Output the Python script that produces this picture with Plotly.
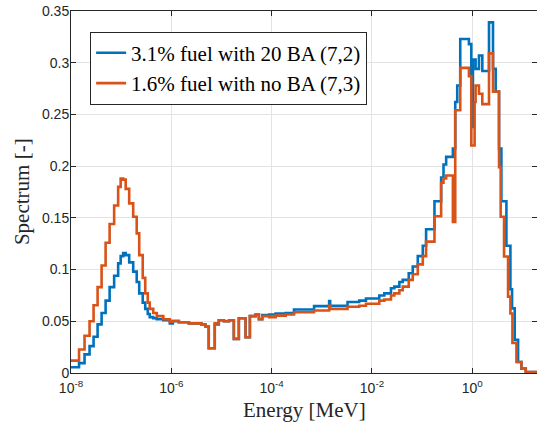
import plotly.graph_objects as go

# Lower bin edges, log10(Energy / MeV); last entry is the upper edge of the final bin
log_edges = [
    -8.05, -7.84, -7.73, -7.63, -7.55, -7.47, -7.39, -7.31, -7.23, -7.14,
    -7.06, -7.01, -6.96, -6.91, -6.84, -6.76, -6.69, -6.64, -6.57, -6.52,
    -6.47, -6.43, -6.36, -6.29, -6.16, -6.03, -5.97, -5.85, -5.65, -5.40,
    -5.32, -5.254, -5.134, -5.054, -4.95, -4.85, -4.754, -4.654, -4.52, -4.434,
    -4.32, -4.254, -4.187, -4.05, -3.92, -3.72, -3.554, -3.154, -2.854, -2.834,
    -2.487, -2.254, -2.12, -1.854, -1.754, -1.621, -1.554, -1.454, -1.387, -1.267,
    -1.187, -1.087, -0.987, -0.921, -0.754, -0.621, -0.574, -0.521, -0.387, -0.34,
    -0.30, -0.24, -0.067, -0.02, 0.013, 0.046, 0.066, 0.133, 0.20, 0.333,
    0.413, 0.466, 0.533, 0.566, 0.58, 0.633, 0.68, 0.713, 0.76, 0.793,
    0.80, 0.846, 0.88, 0.913, 0.98, 1.066, 1.30,
]

spectrum_ba = [
    0.0056, 0.0095, 0.018, 0.026, 0.035, 0.047, 0.058, 0.070, 0.083, 0.094,
    0.106, 0.113, 0.116, 0.114, 0.107, 0.098, 0.088, 0.077, 0.068, 0.062,
    0.057, 0.054, 0.053, 0.052, 0.051, 0.048, 0.050, 0.049, 0.048, 0.047,
    0.045, 0.024, 0.047, 0.051, 0.050, 0.051, 0.033, 0.053, 0.0345, 0.055,
    0.0565, 0.052, 0.056, 0.0565, 0.0575, 0.058, 0.0614, 0.0647, 0.0696, 0.065,
    0.0686, 0.070, 0.072, 0.075, 0.077, 0.082, 0.0835, 0.088, 0.090, 0.0964,
    0.103, 0.113, 0.123, 0.139, 0.166, 0.189, 0.2016, 0.209, 0.217, 0.262,
    0.278, 0.323, 0.318, 0.238, 0.303, 0.303, 0.294, 0.307, 0.292, 0.339,
    0.294, 0.272, 0.217, 0.217, 0.166, 0.166, 0.123, 0.123, 0.081, 0.0625,
    0.0625, 0.032, 0.032, 0.0107, 0.0042, 0.001,
]

spectrum_noba = [
    0.012, 0.0227, 0.036, 0.050, 0.0655, 0.083, 0.104, 0.126, 0.144, 0.162,
    0.180, 0.188, 0.187, 0.178, 0.164, 0.151, 0.135, 0.114, 0.092, 0.077,
    0.068, 0.062, 0.058, 0.055, 0.052, 0.0495, 0.0505, 0.049, 0.048, 0.047,
    0.045, 0.024, 0.048, 0.051, 0.050, 0.051, 0.033, 0.053, 0.0345, 0.055,
    0.0565, 0.052, 0.055, 0.054, 0.0555, 0.0565, 0.0588, 0.0605, 0.065, 0.062,
    0.064, 0.065, 0.067, 0.070, 0.071, 0.075, 0.077, 0.080, 0.0835, 0.090,
    0.0955, 0.105, 0.113, 0.127, 0.1515, 0.184, 0.188, 0.191, 0.146, 0.254,
    0.254, 0.295, 0.287, 0.22, 0.22, 0.262, 0.278, 0.27, 0.26, 0.309,
    0.272, 0.272, 0.199, 0.151, 0.151, 0.1126, 0.1126, 0.0738, 0.0576, 0.0576,
    0.029, 0.029, 0.0107, 0.0107, 0.0042, 0.001,
]

series_names = ["3.1% fuel with 20 BA (7,2)", "1.6% fuel with no BA (7,3)"]
series_colors = ["#0072BD", "#D95319"]

x_tick_vals = [1e-8, 1e-6, 1e-4, 1e-2, 1e0]
x_tick_text = ["10<sup>-8</sup>", "10<sup>-6</sup>", "10<sup>-4</sup>", "10<sup>-2</sup>", "10<sup>0</sup>"]
y_tick_vals = [0, 0.05, 0.1, 0.15, 0.2, 0.25, 0.3, 0.35]
y_tick_text = ["0", "0.05", "0.1", "0.15", "0.2", "0.25", "0.3", "0.35"]
x_title = "Energy [MeV]"
y_title = "Spectrum [-]"

assert len(log_edges) == len(spectrum_ba) + 1 == len(spectrum_noba) + 1

energies = [10 ** e for e in log_edges]

fig = go.Figure()
for name, vals, col in zip(series_names, [spectrum_ba, spectrum_noba], series_colors):
    fig.add_trace(go.Scatter(
        x=energies, y=list(vals) + [vals[-1]],
        mode="lines", line=dict(color=col, width=2.6, shape="hv"),
        name=name,
    ))

axis_common = dict(
    showline=True, linecolor="#262626", linewidth=1, mirror="ticks",
    ticks="inside", ticklen=5, tickcolor="#262626",
    showgrid=True, gridcolor="#e3e3e3", gridwidth=1, zeroline=False,
    automargin=False,
    tickfont=dict(family="Liberation Sans, Arial", size=14, color="#262626"),
)

serif = "Liberation Serif, Times New Roman"

fig.update_layout(
    width=537, height=432,
    margin=dict(l=71, r=0, t=11, b=59),
    paper_bgcolor="white", plot_bgcolor="white",
    showlegend=True,
    legend=dict(
        x=0.041, y=0.943, xanchor="left", yanchor="top",
        bgcolor="white", bordercolor="#262626", borderwidth=1,
        font=dict(family=serif, size=21, color="#000000"),
        tracegroupgap=0, itemwidth=30,
    ),
    xaxis=dict(
        type="log", range=[-8, 1.29],
        tickvals=x_tick_vals, ticktext=x_tick_text,
        ticklabelstandoff=2,
        **axis_common,
    ),
    yaxis=dict(
        range=[0, 0.35],
        tickvals=y_tick_vals, ticktext=y_tick_text,
        ticklabelstandoff=-2,
        **axis_common,
    ),
    annotations=[
        dict(text=x_title, xref="paper", yref="paper", x=0.5, y=-0.102,
             xanchor="center", yanchor="middle", showarrow=False,
             font=dict(family=serif, size=21, color="#262626")),
        dict(text=y_title, xref="paper", yref="paper", x=-0.105, y=0.5,
             xanchor="center", yanchor="middle", showarrow=False, textangle=-90,
             font=dict(family=serif, size=21, color="#262626")),
    ],
)

fig.write_html("out.html", config={"displayModeBar": False},
               post_script="document.body.style.margin='0';document.body.style.padding='0';")
